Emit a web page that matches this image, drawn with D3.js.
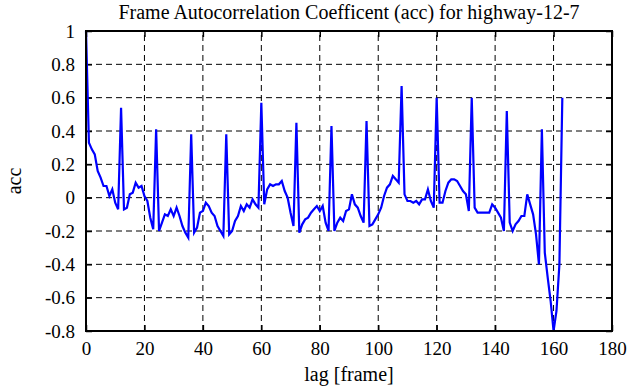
<html>

<head>
    <meta charset="utf-8">
    <title>Frame Autocorrelation Coefficent</title>
    <script src="https://d3js.org/d3.v7.min.js"></script>
    <style>
        body { margin: 0; background: #fff; }
        svg text { font-family: "Liberation Serif", "Times New Roman", serif; }
    </style>
</head>

<body>
    <div id="myPlot"></div>
    <script>
        // acc values, one per lag 0..163
        var acc = [
            1.00, 0.33, 0.29, 0.26, 0.16, 0.12, 0.07, 0.07, 0.01, 0.05,
            -0.03, -0.07, 0.54, -0.07, -0.06, 0.02, 0.03, 0.09, 0.06, 0.07,
            0.01, -0.02, -0.12, -0.19, 0.41, -0.20, -0.15, -0.10, -0.11, -0.07,
            -0.11, -0.06, -0.11, -0.17, -0.21, -0.24, 0.38, -0.21, -0.18, -0.09,
            -0.08, -0.03, -0.05, -0.09, -0.11, -0.17, -0.20, -0.23, 0.38, -0.22,
            -0.20, -0.14, -0.11, -0.05, -0.08, -0.04, -0.06, -0.01, -0.04, -0.06,
            0.57, -0.04, 0.05, 0.08, 0.07, 0.08, 0.08, 0.10, 0.04, 0.00,
            -0.09, -0.17, 0.45, -0.21, -0.16, -0.13, -0.12, -0.09, -0.07, -0.05,
            -0.08, -0.05, -0.15, -0.20, 0.43, -0.20, -0.15, -0.12, -0.14, -0.08,
            -0.07, 0.02, -0.04, -0.06, -0.11, -0.15, 0.46, -0.17, -0.16, -0.13,
            -0.10, -0.06, 0.01, 0.06, 0.08, 0.13, 0.11, 0.09, 0.67, 0.02,
            -0.02, -0.02, -0.03, -0.02, -0.04, -0.01, -0.01, 0.05, -0.02, -0.06,
            0.60, -0.03, -0.03, 0.04, 0.09, 0.11, 0.11, 0.10, 0.07, 0.04,
            0.02, -0.08, 0.60, -0.06, -0.09, -0.09, -0.09, -0.09, -0.09, -0.04,
            -0.06, -0.09, -0.12, -0.20, 0.52, -0.15, -0.20, -0.16, -0.14, -0.11,
            -0.11, 0.02, -0.04, -0.10, -0.22, -0.40, 0.41, -0.33, -0.48, -0.62,
            -0.80, -0.68, -0.40, 0.60
        ];
        var lags = d3.range(acc.length);

        var xTicks = [0, 20, 40, 60, 80, 100, 120, 140, 160, 180];
        var yTicks = [-0.8, -0.6, -0.4, -0.2, 0, 0.2, 0.4, 0.6, 0.8, 1];

        var width = 635, height = 387;
        var margin = { top: 31, right: 23, bottom: 56, left: 86 };

        var svg = d3.select("#myPlot").append("svg")
            .attr("width", width)
            .attr("height", height);

        var xScale = d3.scaleLinear()
            .domain([0, 180])
            .range([margin.left, width - margin.right]);

        var yScale = d3.scaleLinear()
            .domain([-0.8, 1])
            .range([height - margin.bottom, margin.top]);

        // dashed grid
        var grid = svg.append("g");
        grid.selectAll("line.vx")
            .data(xTicks.slice(1, -1))
            .enter().append("line")
            .attr("x1", d => xScale(d)).attr("x2", d => xScale(d))
            .attr("y1", yScale(-0.8)).attr("y2", yScale(1))
            .attr("stroke", "#000").attr("stroke-width", 1)
            .attr("stroke-dasharray", "6,4");
        grid.selectAll("line.hy")
            .data(yTicks.slice(1, -1))
            .enter().append("line")
            .attr("y1", d => yScale(d)).attr("y2", d => yScale(d))
            .attr("x1", xScale(0)).attr("x2", xScale(180))
            .attr("stroke", "#000").attr("stroke-width", 1)
            .attr("stroke-dasharray", "6,4");

        // inward ticks on all four sides
        function tickAxis(axis, tr) {
            var g = svg.append("g")
                .attr("transform", tr)
                .call(axis.tickSizeOuter(0).tickPadding(8));
            g.attr("font-family", null);
            g.select(".domain").remove();
            g.selectAll("line").attr("stroke", "#000").attr("stroke-width", 1.5);
            return g;
        }

        // plain hyphen for negatives, like the original
        function fmtY(d) {
            return String(+d.toFixed(1)).replace("\u2212", "-");
        }

        var bottomAx = tickAxis(d3.axisBottom(xScale).tickValues(xTicks).tickSize(-6).tickFormat(d3.format("d")),
            "translate(0," + yScale(-0.8) + ")");
        bottomAx.selectAll("text").attr("font-size", 19).attr("fill", "#000").attr("dy", "0.72em").attr("y", 10);

        var leftAx = tickAxis(d3.axisLeft(yScale).tickValues(yTicks).tickSize(-6).tickFormat(fmtY),
            "translate(" + xScale(0) + ",0)");
        leftAx.selectAll("text").attr("font-size", 19).attr("fill", "#000").attr("x", -11);

        tickAxis(d3.axisTop(xScale).tickValues(xTicks).tickSize(-6).tickFormat(""),
            "translate(0," + yScale(1) + ")");
        tickAxis(d3.axisRight(yScale).tickValues(yTicks).tickSize(-6).tickFormat(""),
            "translate(" + xScale(180) + ",0)");

        // the series
        var line = d3.line()
            .x((d, i) => xScale(lags[i]))
            .y(d => yScale(d));

        svg.append("path")
            .datum(acc)
            .attr("d", line)
            .attr("fill", "none")
            .attr("stroke", "#0000ff")
            .attr("stroke-width", 2.2)
            .attr("stroke-linejoin", "miter");

        // frame
        svg.append("rect")
            .attr("x", xScale(0)).attr("y", yScale(1))
            .attr("width", xScale(180) - xScale(0))
            .attr("height", yScale(-0.8) - yScale(1))
            .attr("fill", "none")
            .attr("stroke", "#000")
            .attr("stroke-width", 2);

        // titles
        svg.append("text")
            .attr("x", (xScale(0) + xScale(180)) / 2)
            .attr("y", 19)
            .attr("text-anchor", "middle")
            .attr("font-size", 20)
            .text("Frame Autocorrelation Coefficent (acc) for highway-12-7");

        svg.append("text")
            .attr("x", (xScale(0) + xScale(180)) / 2)
            .attr("y", 381)
            .attr("text-anchor", "middle")
            .attr("font-size", 20)
            .text("lag [frame]");

        svg.append("text")
            .attr("transform", "translate(21," + yScale(0.1) + ") rotate(-90)")
            .attr("text-anchor", "middle")
            .attr("font-size", 20)
            .text("acc");
    </script>
</body>

</html>
